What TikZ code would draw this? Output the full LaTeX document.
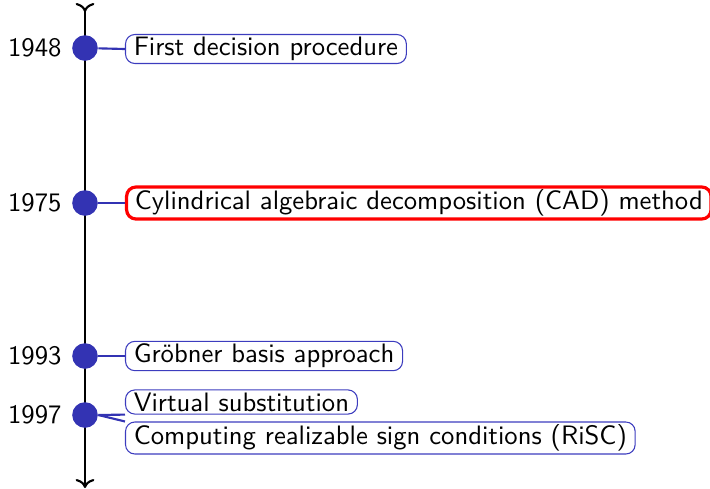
\documentclass[tikz,border=0pt]{standalone}
\usetikzlibrary{arrows.meta}
\definecolor{dotblue}{RGB}{51,51,179}
\definecolor{boxblue}{RGB}{60,60,190}
\begin{document}
\begin{tikzpicture}[x=0.375pt,y=-0.375pt,
  font=\sffamily,
  event/.style={draw=boxblue,line width=0.4pt,rounded corners=3.5pt,inner xsep=3.1pt,inner ysep=1pt,anchor=west},
  hot/.style={draw=red,line width=1.2pt,rounded corners=3.5pt,inner xsep=3.1pt,inner ysep=1pt,anchor=west},
  dotmark/.style={circle,fill=dotblue,inner sep=0pt,minimum size=9.6pt},
  year/.style={anchor=east,inner sep=0pt},
  link/.style={draw=dotblue,line width=0.8pt}]
\useasboundingbox (0,0) rectangle (710,488);
\coordinate (top) at (85,3);
\coordinate (bot) at (85,488);
\draw[line width=0.8pt,{To[reversed]}-To] (top) -- (bot);
\node[dotmark] (d1) at (85,48) {};
\node[dotmark] (d2) at (85,203) {};
\node[dotmark] (d3) at (85,356) {};
\node[dotmark] (d4) at (85,415) {};
\node[year] (y1) at (62,48) {1948};
\node[year] (y2) at (62,203) {1975};
\node[year] (y3) at (62,356) {1993};
\node[year] (y4) at (62,415) {1997};
\node[event] (e1) at (125,49) {First decision procedure};
\node[hot] (e2) at (125,203) {Cylindrical algebraic decomposition (CAD) method};
\node[event] (e3) at (125,356) {Gr\"obner basis approach};
\node[event] (e4) at (125,402) {Virtual substitution};
\node[event] (e5) at (125,438) {Computing realizable sign conditions (RiSC)};
\draw[link] (d1) -- (e1.west);
\draw[link] (d2) -- (e2.west);
\draw[link] (d3) -- (e3.west);
\draw[link] (d4.east) -- (e4.south west);
\draw[link] (d4.east) -- (e5.north west);
\end{tikzpicture}
\end{document}
